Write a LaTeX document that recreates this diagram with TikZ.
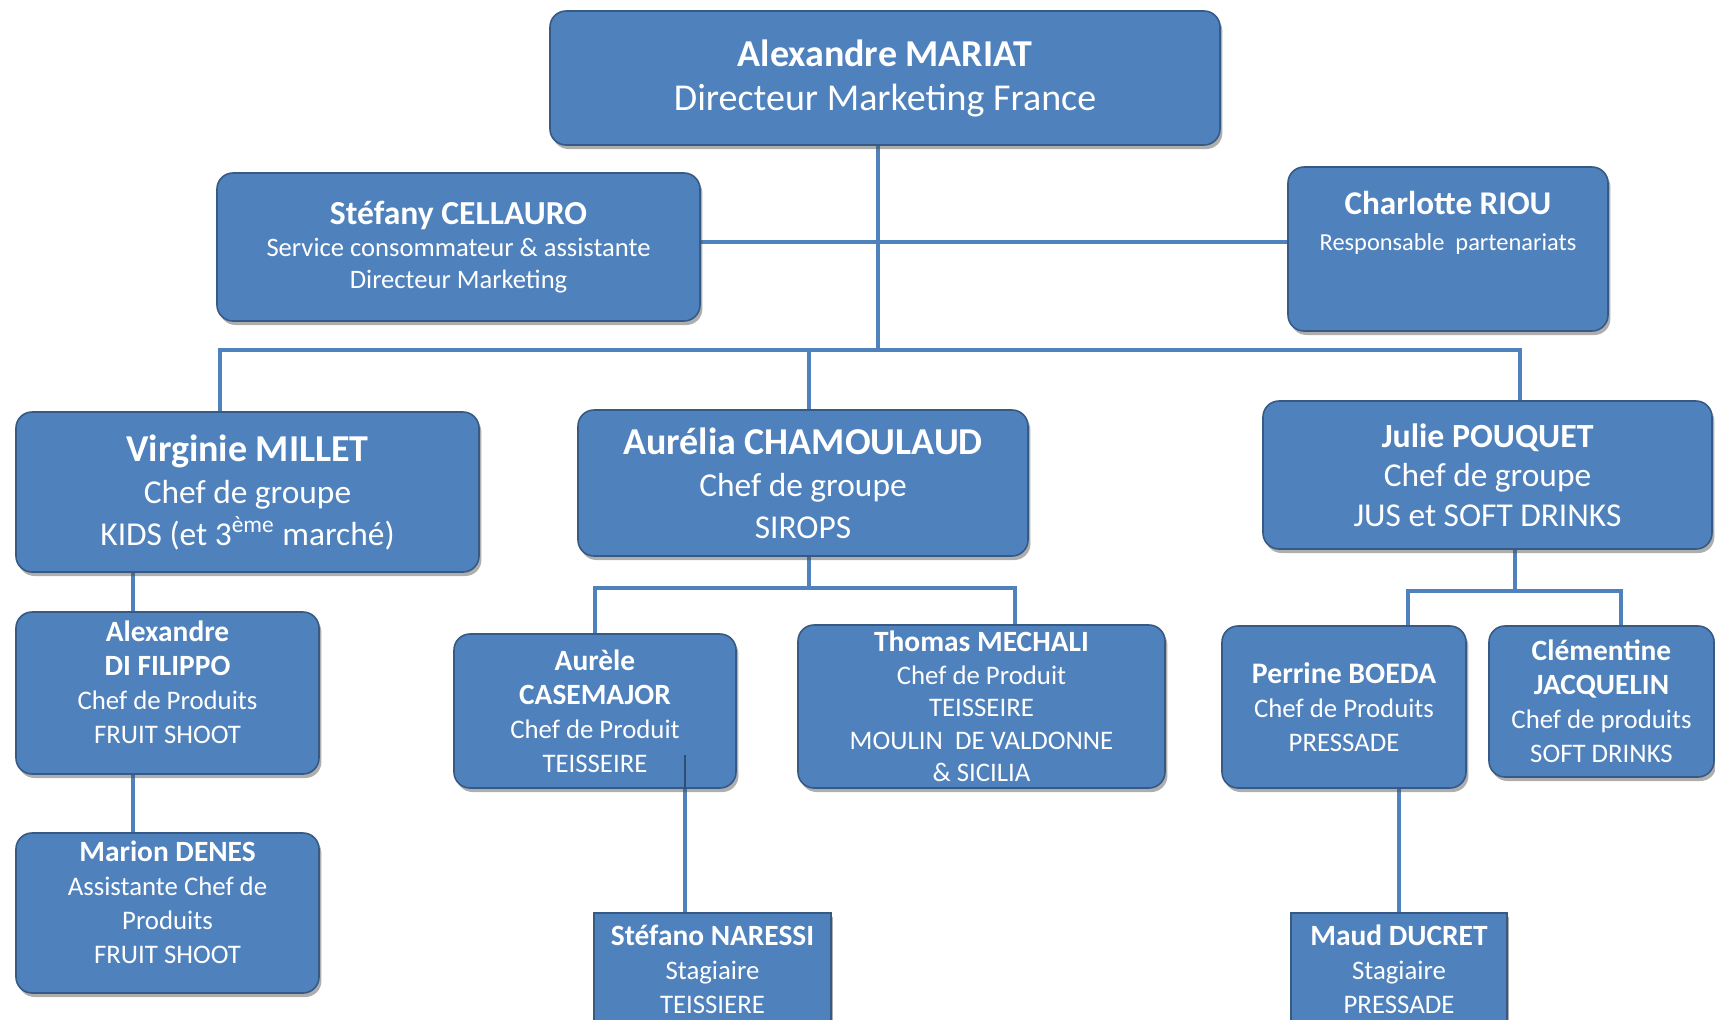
\documentclass[tikz,border=0pt]{standalone}
\usepackage{fontspec}
\setmainfont{Carlito}
\usetikzlibrary{shadows,backgrounds}
\definecolor{boxblue}{RGB}{79,129,189}
\newcommand{\who}[2]{{\fontsize{#1}{#1}\selectfont\bfseries #2}}

\begin{document}
\begin{tikzpicture}[x=0.5pt,y=-0.5pt,
    card/.style={draw=boxblue!70!black,line width=0.8pt,fill=boxblue,rounded corners=8pt,
        text=white,align=center,inner sep=1pt,
        drop shadow={shadow xshift=1.2pt,shadow yshift=-2pt,opacity=0.45,fill=black!70}},
    big/.style={card,font=\fontsize{16.7}{21}\selectfont},
    small/.style={card,font=\fontsize{13.4}{17}\selectfont},
    intern/.style={small,rounded corners=0pt},
    link/.style={draw=boxblue,line width=2.2pt}]
    \useasboundingbox (0,0) rectangle (1715,1019);
    \clip (0,0) rectangle (1715,1019);

    % direction
    \node[card,minimum width=335pt,minimum height=67pt,font=\fontsize{19}{22}\selectfont] (mariat) at (885,78)
        {\textbf{Alexandre MARIAT}\\Directeur Marketing France};
    \node[card,minimum width=241.5pt,minimum height=74pt,font=\fontsize{13.3}{16}\selectfont] (stefany) at (458.5,247)
        {\who{16.8}{Stéfany CELLAURO}\\Service consommateur \& assistante\\Directeur Marketing};
    \node[card,minimum width=160pt,minimum height=82pt,font=\fontsize{12.2}{18}\selectfont] (charlotte) at (1448,249)
        {\who{16.6}{Charlotte RIOU}\\Responsable\ \ partenariats\\[10pt]\mbox{}};

    % chefs de groupe
    \node[big,minimum width=231.5pt,minimum height=80pt] (virginie) at (247.5,492)
        {\who{19}{Virginie MILLET}\\Chef de groupe\\KIDS (et 3\textsuperscript{ème} marché)};
    \node[big,minimum width=225pt,minimum height=73pt] (aurelia) at (803,483)
        {\who{19}{Aurélia CHAMOULAUD}\\Chef de groupe\\SIROPS};
    \node[big,minimum width=224.5pt,minimum height=74pt,font=\fontsize{16.7}{19.7}\selectfont] (julie) at (1487.5,475)
        {\who{16.9}{Julie POUQUET}\\Chef de groupe\\JUS et SOFT DRINKS};

    % chefs de produits
    \node[small,minimum width=151.5pt,minimum height=81pt] (difilippo) at (167.5,693)
        {\who{14.7}{Alexandre}\\\who{14.7}{DI FILIPPO}\\Chef de Produits\\FRUIT SHOOT\\[-6.6pt]\mbox{}};
    \node[small,minimum width=151.5pt,minimum height=80pt] (denes) at (167.5,913)
        {\who{14.7}{Marion DENES}\\Assistante Chef de\\Produits\\FRUIT SHOOT\\[-6.6pt]\mbox{}};
    \node[small,minimum width=141pt,minimum height=77pt] (casemajor) at (595,711)
        {\who{14.7}{Aurèle}\\\who{14.7}{CASEMAJOR}\\Chef de Produit\\TEISSEIRE};
    \node[small,minimum width=183.5pt,minimum height=81.5pt,font=\fontsize{13.4}{16.2}\selectfont] (mechali) at (981.5,706.5)
        {\who{14.7}{Thomas MECHALI}\\Chef de Produit\\TEISSEIRE\\MOULIN\ \ DE VALDONNE\\\& SICILIA};
    \node[small,minimum width=122pt,minimum height=81pt] (boeda) at (1344,707)
        {\who{14.9}{Perrine BOEDA}\\Chef de Produits\\PRESSADE};
    \node[small,minimum width=112.5pt,minimum height=75.5pt] (jacquelin) at (1601.5,701.5)
        {\who{14.7}{Clémentine}\\\who{14.7}{JACQUELIN}\\Chef de produits\\SOFT DRINKS};

    % stagiaires
    \node[intern,minimum width=118.5pt,minimum height=56pt] (naressi) at (712.5,969)
        {\who{14.7}{Stéfano NARESSI}\\Stagiaire\\TEISSIERE};
    \node[intern,minimum width=108pt,minimum height=56pt] (ducret) at (1399,969)
        {\who{14.7}{Maud DUCRET}\\Stagiaire\\PRESSADE};

    % liens
    \begin{scope}[on background layer]
        \coordinate (trunk) at (878,350);
        \coordinate (busL) at (220,350);
        \coordinate (busR) at (1520,350);
        \coordinate (side) at (0,242);
        \coordinate (sirX) at (809,0);
        \draw[link] (trunk |- mariat.south) -- (trunk);
        \draw[link] (stefany.east |- side) -- (charlotte.west |- side);
        \draw[link] (busL |- virginie.north) -- (busL) -- (busR) -- (busR |- julie.north);
        \draw[link] (sirX |- trunk) -- (sirX |- aurelia.north);
        % KIDS
        \coordinate (kids) at (133,0);
        \draw[link] (kids |- virginie.south) -- (kids |- denes.north);
        % SIROPS
        \coordinate (sirops) at (809,588);
        \coordinate (mechaliTop) at (1015,588);
        \draw[link] (sirops |- aurelia.south) -- (sirops);
        \draw[link] (casemajor.north) |- (mechaliTop) -- (mechaliTop |- mechali.north);
        \coordinate (stag) at (685,755);
        \draw[link] (stag |- casemajor.south) -- (stag |- naressi.north);
        % JUS
        \coordinate (jusBus) at (1515,591);
        \coordinate (boedaTop) at (1408,591);
        \coordinate (jacqTop) at (1621,591);
        \draw[link] (jusBus |- julie.south) -- (jusBus);
        \draw[link] (boedaTop |- boeda.north) -- (boedaTop) -- (jacqTop) -- (jacqTop |- jacquelin.north);
        \draw[link] (ducret.north |- boeda.south) -- (ducret.north);
    \end{scope}
    \draw[boxblue!60!black,line width=0.6pt] (stag) -- (stag |- casemajor.south);
\end{tikzpicture}
\end{document}
